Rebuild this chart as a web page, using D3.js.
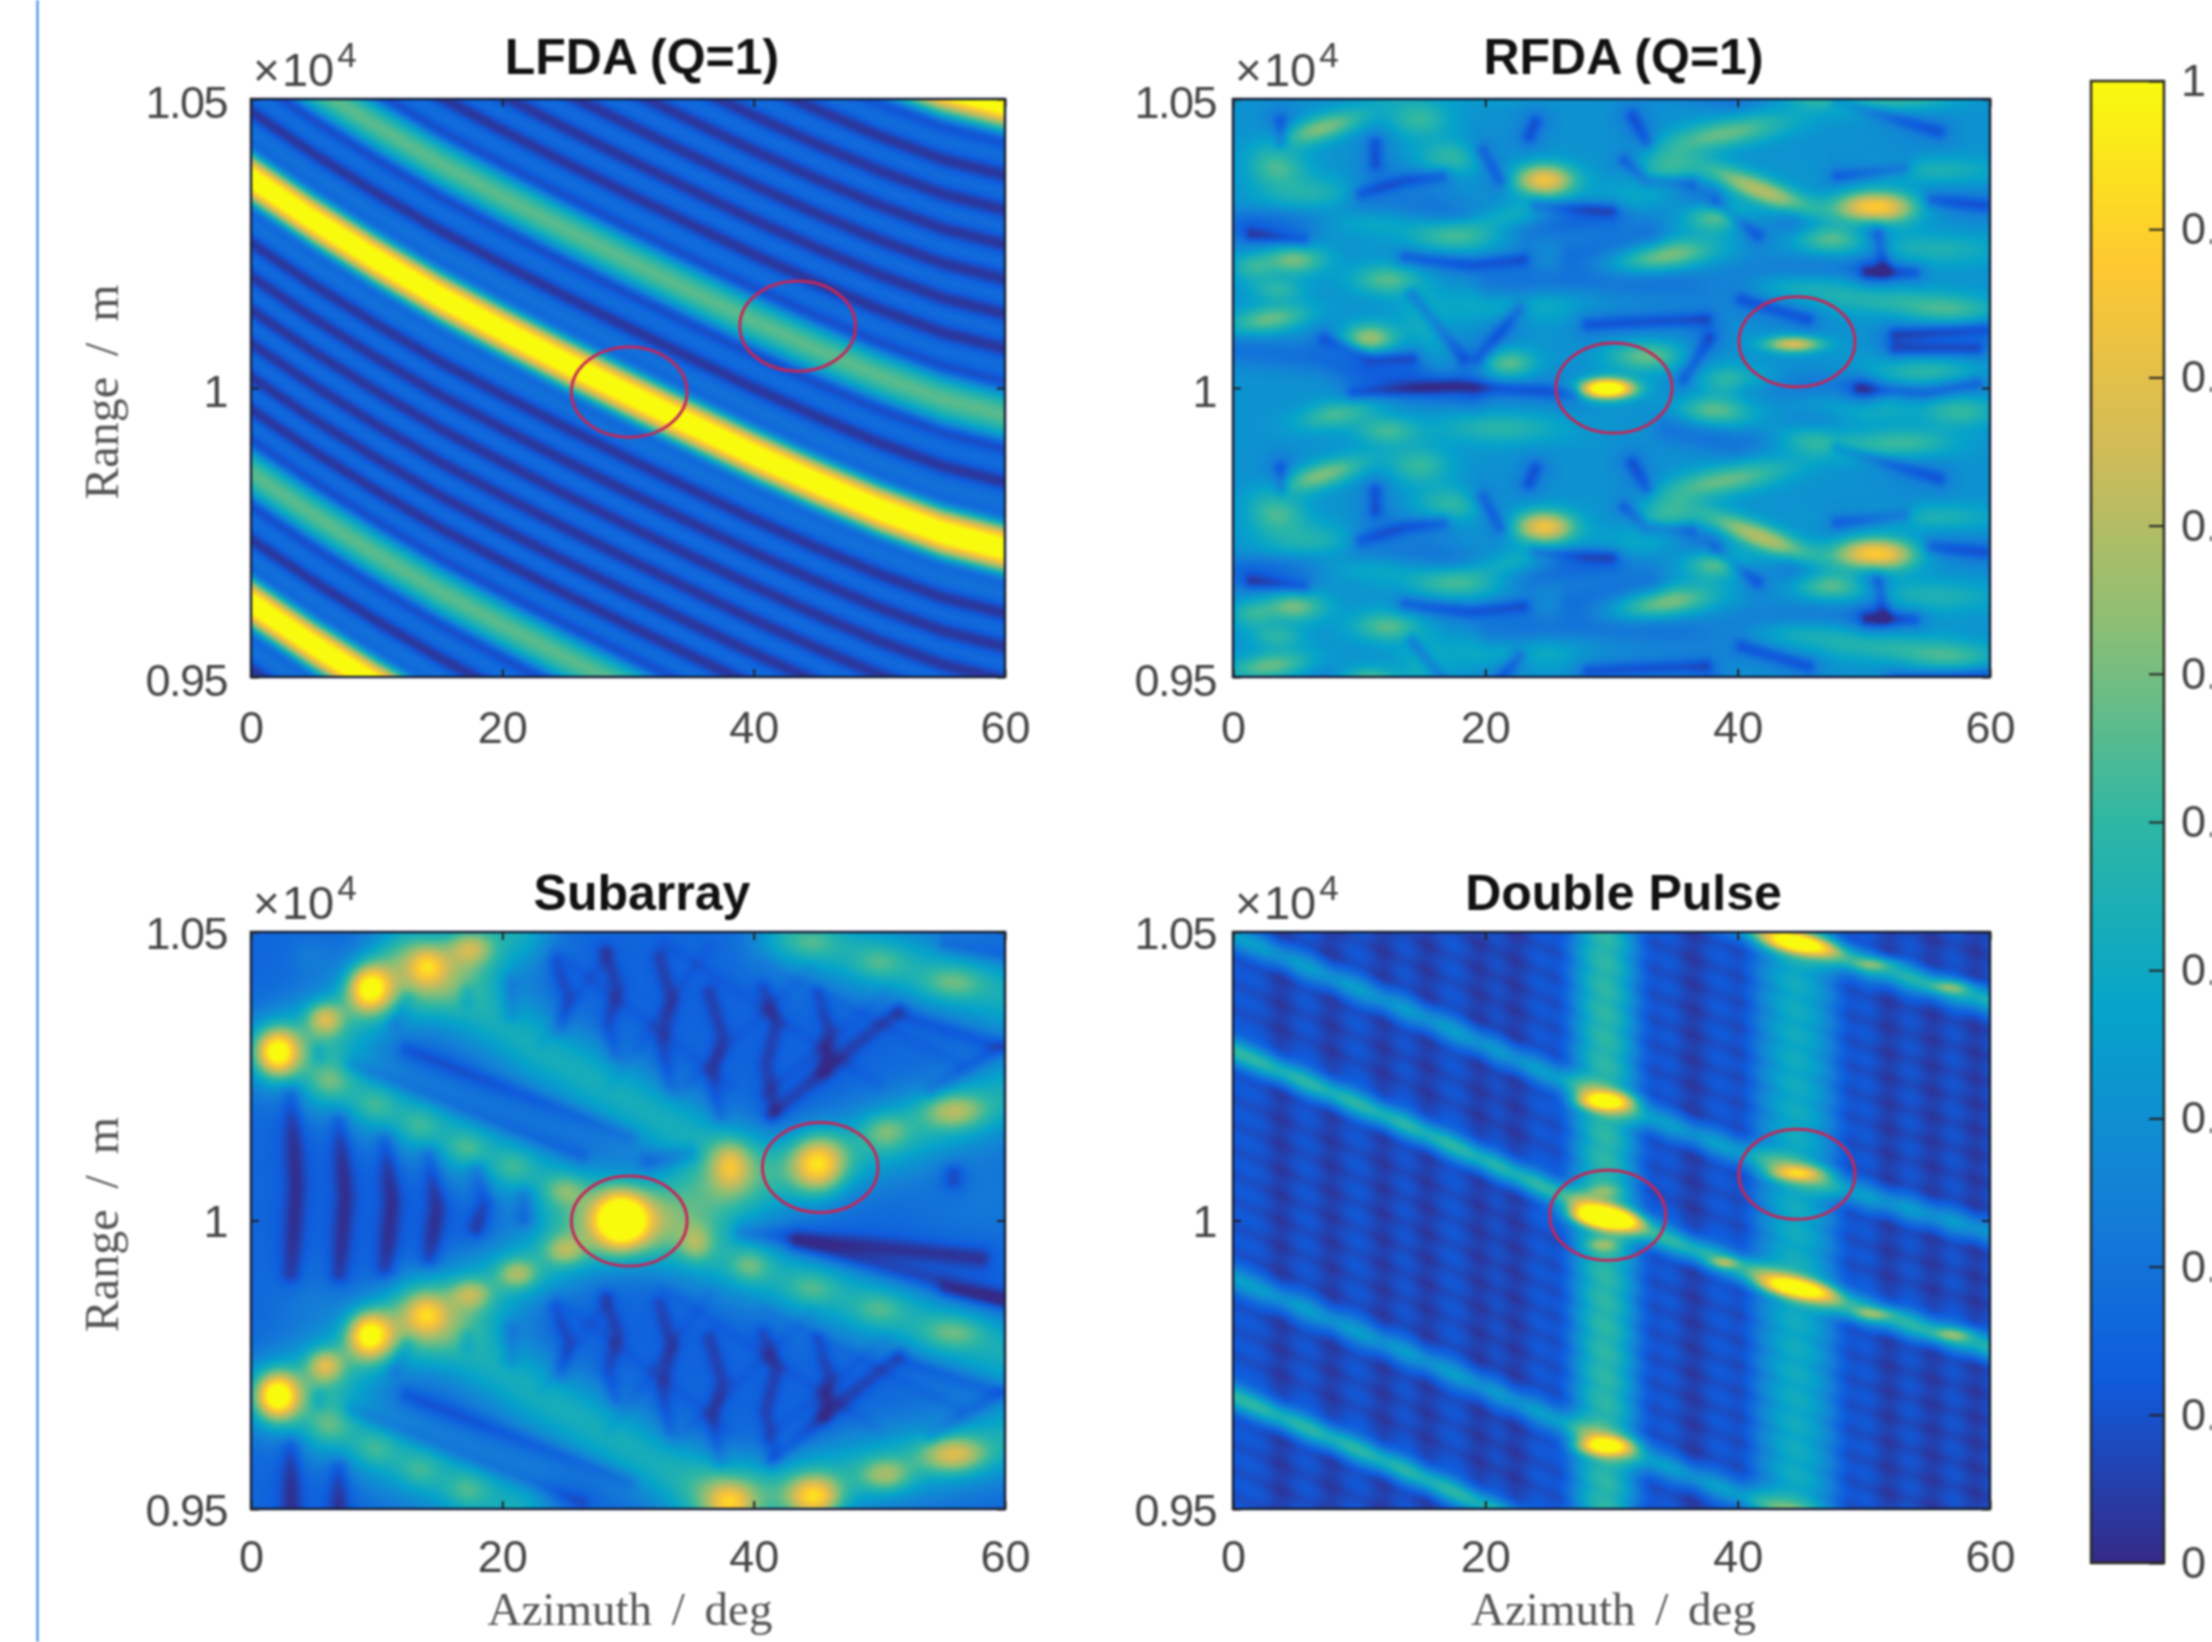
<!DOCTYPE html>
<html>
<head>
<meta charset="utf-8">
<script src="https://cdn.jsdelivr.net/npm/d3@7"></script>
<style>
body { margin: 0; background: #fff; }
svg { display: block; filter: blur(0.9px); }
text { font-family: "Liberation Sans", Arial, sans-serif; fill: #454545; }
.label { font-family: "Liberation Serif", serif; fill: #555; }
.title { font-weight: bold; fill: #111; }
</style>
</head>
<body>
<script>
var xTicks = [0, 20, 40, 60];
var yTicks = [9500, 10000, 10500];
var yTickLabels = ["0.95", "1", "1.05"];
var barTicks = [0, 0.1, 0.2, 0.3, 0.4, 0.5, 0.6, 0.7, 0.8, 0.9, 1];
var parula = ["#352a87", "#0f5cdd", "#1481d6", "#06a4ca", "#2eb7a4", "#87bf77", "#d1bb59", "#fec832", "#f9fb0e"];

// The heat maps are rebuilt from ridges, spots and nulls read off the picture (azimuth deg, range m),
// the original matrices are not available.

// LFDA: one curve, repeated at range shifts
var lfdaCurveAz = [0, 5, 10, 15, 20, 25, 30, 35, 40, 45, 50, 55, 60];
var lfdaCurveRange = [10363, 10290, 10222, 10158, 10100, 10044, 9990, 9937, 9885, 9836, 9790, 9750, 9722];
var lfdaRidgeShift = [0, 231, -510, -735, 770];
var lfdaRidgeLevel = [1.12, 0.56, 0.56, 1.12, 1.12];
var lfdaNullShift = [55, 115, 175, 286, 346, 406, 466, 526, 586, 646, 705, 825, 885,
  -55, -112, -170, -228, -286, -344, -400, -455, -565, -625, -680, -790, -850, -910];

// RFDA: [azimuth, range, level, spread az, spread range, slope m/deg]
var rfdaSpots = [
  [7, 10449, 0.55, 1.8, 12, 6], [14.8, 10466, 0.45, 1.2, 16, 0], [3.5, 10384, 0.48, 1.1, 16, 0],
  [17.2, 10397, 0.46, 1.3, 15, 0], [24.7, 10359, 0.78, 1.2, 14, 0], [34.3, 10376, 0.48, 1.3, 15, 0],
  [39, 10440, 0.52, 2.6, 13, 4], [41.9, 10342, 0.64, 2.2, 12, -8], [50.9, 10312, 0.85, 1.6, 14, 0],
  [38.4, 10297, 0.56, 1.2, 13, 0], [47.4, 10260, 0.52, 1.3, 12, 0], [34.3, 10229, 0.56, 2, 13, 3],
  [4.9, 10223, 0.56, 1.2, 13, 0], [1.5, 10209, 0.42, 0.8, 12, 0], [17.7, 10260, 0.46, 2, 14, 0],
  [21.8, 10295, 0.42, 2.2, 12, 4], [12.2, 10188, 0.48, 1.4, 13, 0], [3.5, 10170, 0.42, 1, 10, 0],
  [2.9, 10119, 0.52, 1.6, 12, 3], [10.8, 10085, 0.62, 1.1, 13, 0], [57, 10132, 0.46, 2, 12, 0],
  [6.1, 10333, 0.42, 2, 16, 0], [32.3, 10325, 0.42, 2, 14, 0], [22.4, 10145, 0.4, 2.5, 15, 0],
  [15.4, 10119, 0.42, 1.2, 28, -16], [51.5, 10153, 0.4, 3, 12, 0], [44.5, 10179, 0.4, 3, 12, 0],
  [55, 10239, 0.4, 3, 14, 0], [55, 10376, 0.4, 3, 12, 0], [10.8, 10290, 0.4, 2, 12, 0],
  [21.8, 10042, 0.52, 1.1, 13, 0], [32.8, 10055, 0.52, 1.5, 13, 0], [55, 10029, 0.46, 2.5, 13, 0],
  [8.4, 9956, 0.48, 1.6, 12, 4], [12.2, 9926, 0.46, 1.2, 12, 0], [38.1, 9961, 0.5, 1.4, 13, 0],
  [40.1, 10016, 0.46, 1.6, 12, 0], [49.4, 9969, 0.46, 2, 14, 0], [57.6, 9961, 0.46, 1.5, 14, 0],
  [21.2, 9931, 0.42, 2.5, 14, 0], [46.8, 9905, 0.46, 2.5, 14, -5], [53.2, 9905, 0.46, 2, 12, 0]
];
var rfdaRepeat = [0, -600, 600];
var rfdaTargets = [[29.65, 9999, 1.15, 1.5, 12, 0], [44.5, 10076, 0.68, 1.6, 10, 0]];
// nulls: polylines [az, range, az, range, ...]
var rfdaNulls = [
  [11.3, 10423, 11.3, 10389], [19.8, 10410, 21.2, 10359], [10.2, 10337, 13.7, 10359, 16.6, 10367],
  [13.7, 10226, 18.9, 10213, 23, 10222], [14.2, 10162, 18.3, 10051], [22.7, 10136, 19.5, 10051],
  [28.2, 10110, 37.5, 10119], [37.8, 10085, 35.8, 10016], [51.2, 10265, 51.7, 10205],
  [50.3, 10200, 54, 10200], [52.6, 10093, 59.6, 10102], [52.6, 10068, 59, 10068],
  [9.6, 9991, 17.7, 10004, 27, 9991], [38.4, 10320, 41.6, 10265], [24, 10460, 23.5, 10436],
  [31.7, 10470, 32.8, 10427], [31.1, 10393, 32.8, 10359, 36.3, 10354], [48, 10367, 53.2, 10380],
  [24.1, 10316, 30, 10307], [40.4, 10153, 45.6, 10119], [55.5, 10325, 59.6, 10316],
  [49.7, 9999, 54.9, 9991, 59, 10008], [7.3, 10085, 10.8, 10051, 14.2, 10051],
  [1.5, 10265, 5.5, 10256], [3.8, 10461, 3.8, 10427], [48, 10496, 56, 10444]
];
// wider blue valleys between the lumps
var rfdaValleys = [
  [0, 10282, 6.7, 10299, 15.4, 10307, 23.5, 10273, 30.5, 10307, 37.5, 10325],
  [20.6, 10170, 28.2, 10188, 37.5, 10179, 44.5, 10200, 50.3, 10205],
  [44.5, 10290, 50.3, 10277], [0.3, 10068, 6.7, 10051, 11.3, 10025, 18.9, 9991],
  [34.6, 9931, 39.8, 9905, 46.2, 9948, 50.3, 9982], [41, 10008, 49.7, 9999], [27, 10230, 33, 10260]
];

// Subarray
var subarraySpots = [
  [2.1, 10292, 1, 1.2, 28, 0], [9.4, 10403, 1, 1.2, 28, 0], [5.9, 10350, 0.7, 1, 20, 0],
  [14, 10442, 0.62, 1, 22, 0], [17.5, 10473, 0.62, 1.2, 20, 0], [29.5, 10000, 1.08, 1.4, 32, 0],
  [45.1, 10097, 0.88, 1.5, 34, 0], [38.1, 10097, 0.6, 1, 28, 0], [55.9, 10190, 0.64, 1.8, 22, 0],
  [50.5, 10155, 0.55, 1.3, 22, 0], [25, 9947, 0.6, 1.1, 18, 0], [21.2, 9907, 0.62, 1.1, 18, 0],
  [17.5, 9872, 0.6, 1.1, 18, 0], [14, 9836, 0.6, 1, 22, 0], [9.4, 9801, 1, 1.2, 28, 0],
  [5.9, 9748, 0.7, 1, 20, 0], [2.1, 9695, 1.05, 1.2, 28, 0], [35.4, 9960, 0.55, 0.9, 22, 0],
  [6.4, 10239, 0.48, 1.1, 20, 0], [9.9, 10199, 0.46, 1.1, 20, 0], [13.4, 10164, 0.46, 1.1, 20, 0],
  [17.2, 10124, 0.48, 1.1, 20, 0], [20.9, 10093, 0.46, 1.1, 20, 0], [25, 10053, 0.52, 1.1, 18, 0],
  [39.7, 9920, 0.52, 1.1, 20, 0], [44.6, 9881, 0.48, 1.4, 20, 0], [50, 9845, 0.48, 1.4, 20, 0],
  [55.9, 9805, 0.52, 1.7, 20, 0], [6.4, 9642, 0.46, 1.1, 20, 0], [9.9, 9602, 0.46, 1.1, 20, 0],
  [13.4, 9566, 0.46, 1.1, 20, 0], [17.2, 9531, 0.48, 1.1, 20, 0], [38.1, 9513, 0.58, 1.1, 20, 0],
  [44.8, 9518, 0.9, 1.5, 26, 0], [50.5, 9557, 0.62, 1.4, 20, 0], [55.9, 9593, 0.72, 1.8, 22, 0],
  [55.9, 10412, 0.52, 1.7, 20, 0], [50, 10447, 0.48, 1.4, 20, 0], [44.6, 10482, 0.48, 1.4, 20, 0],
  [4.8, 10460, 0.42, 1.3, 24, 0], [58, 10040, 0.42, 4, 60, 0], [5, 9870, 0.42, 2.5, 50, 0],
  [14, 10340, 0.36, 1.2, 60, 0], [14, 9740, 0.36, 1.2, 60, 0]
];
var subarrayRidges = [
  [6.4, 10239, 29.5, 10000, 60, 9770], [12.4, 10455, 23, 10296, 38, 10105], [13.4, 9836, 23, 9695, 38, 9505],
  [2.1, 9695, 29.5, 10000, 45.1, 10097, 60, 10216], [2.1, 10292, 20.9, 10500], [38.1, 9513, 60, 9617],
  [43, 10495, 60, 10390], [6.4, 9642, 20.9, 9500]
];
var subarrayNulls = [
  [3.2, 10217, 3.6, 10060, 3.2, 9907], [7, 10172, 7.5, 10040, 7, 9907], [10.7, 10137, 11.2, 10030, 10.7, 9916],
  [14.2, 10110, 14.8, 10020, 14.2, 9934], [18, 10084, 18.6, 10030, 18, 9987], [21.8, 10040, 21.8, 10004],
  [3.2, 9606, 3.2, 9500], [7, 9570, 7, 9500], [55.9, 10080, 55.9, 10070], [39.2, 9978, 58, 9934],
  [43.5, 9960, 59.6, 9863], [31.7, 10102, 34.9, 10115]
];
var subarrayNullsRepeat = [
  [20.7, 10411, 20.7, 10358], [24.2, 10447, 25.2, 10390, 24.7, 10332], [28.2, 10465, 29.2, 10400, 28.4, 10340, 29, 10288],
  [32.5, 10456, 33.5, 10380, 32.7, 10310, 33.3, 10234], [36.5, 10394, 37.5, 10320, 36.7, 10250, 37.3, 10181],
  [40.8, 10403, 41.8, 10340, 41, 10270, 41.6, 10190], [45.1, 10394, 46, 10330, 45.6, 10261],
  [41.4, 10181, 51.6, 10367], [51.6, 10358, 59.6, 10301], [59.6, 10301, 54.2, 10226],
  [12.4, 10296, 30.1, 10146], [8.1, 10270, 26.3, 10111], [55.3, 10478, 60, 10460],
  [12.4, 10385, 11.5, 10341], [17.2, 10395, 17.2, 10380], [5.4, 10292, 5.4, 10284]
];
// fainter diagonals that close the honeycomb cells
var subarrayLattice = [
  [23.1, 10305, 28.5, 10465], [28.5, 10234, 36.5, 10473], [33.8, 10217, 44.6, 10438], [40.8, 10217, 50.5, 10394],
  [24.2, 10465, 38.1, 10234], [32.8, 10482, 50, 10234], [40.8, 10447, 56.4, 10270]
];
var subarrayRepeat = [0, -600];

// Double pulse
var pulseCurveAz = [0, 14.2, 25.9, 29.4, 39.8, 50.3, 60];
var pulseCurveRange = [10494, 10361, 10245, 10210, 10121, 10041, 9979];
var pulseRidgeShift = [0, -200, -595, -800, 400];
var pulseRidgeLevel = [0.36, 0.5, 0.36, 0.5, 0.5];
var pulseBandAz = [29.5, 44.7];
var pulseBandLevel = [0.5, 0.42];
var pulseBandSpread = [1.9, 2.3];
var pulseStripeAz = [3.8, 7.8, 11.9, 15.4, 19.5, 22.4, 26, 33, 36.5, 40.4, 48.8, 52, 55.5, 58.9];
var pulseNullShift = [480, 436, 392, 348, 304, 260, 216, 172, 128, 84, 40, -40, -84, -128, -240, -284, -328, -372, -416,
  -460, -504, -548, -640, -684, -728, -840, -884, -928, -972, -1016, 524, 568, 612, 656];
var pulseSpots = [
  [29.4, 10206, 0.85, 1.6, 11, 0], [29.4, 10004, 1.15, 1.9, 12, -2], [29.4, 9607, 0.85, 1.6, 11, 0],
  [44.7, 10480, 0.85, 2, 11, -3], [44.7, 10081, 0.66, 1.5, 9, 0], [44.7, 9882, 0.85, 2, 11, -3],
  [39, 9926, 0.58, 0.8, 7, 0], [51.2, 10445, 0.55, 1.3, 8, 0], [50.9, 9837, 0.55, 1.3, 8, 0],
  [57, 10405, 0.55, 1.3, 8, 0], [57.3, 9802, 0.55, 1.3, 8, 0], [29.4, 9957, 0.55, 1, 8, 0], [29.4, 10050, 0.5, 1, 8, 0]
];

// red circles [azimuth, range]
var lfdaCircles = [[30.1, 9993], [43.5, 10107]];
var rfdaCircles = [[30.2, 10000], [44.7, 10080]];
var subarrayCircles = [[30.1, 9999], [45.3, 10092]];
var pulseCircles = [[29.7, 10009], [44.7, 10080]];

var width = 2212, height = 1642;
var colWidth = [[251, 1005], [1233, 1990]];
var rowHeight = [[99, 677], [932, 1509]];
var cell = 2;

var color = d3.scaleLinear()
  .domain(parula.map(function(d, i) { return i / (parula.length - 1); }))
  .range(parula)
  .clamp(true);

var svg = d3.select("body").append("svg")
  .attr("width", width)
  .attr("height", height);

svg.append("rect").attr("width", width).attr("height", height).attr("fill", "#fff");
svg.append("line").attr("x1", 37.5).attr("x2", 37.5).attr("y1", 0).attr("y2", height)
  .attr("stroke", "#2f86e6").attr("stroke-width", 2);

function gauss(d, s) { return Math.exp(-d * d / (2 * s * s)); }

function makeField(x, y, w, h, base) {
  var nx = Math.ceil(w / cell), ny = Math.ceil(h / cell);
  var v = new Float32Array(nx * ny).fill(base);
  return {
    nx: nx, ny: ny, v: v, base: base, x: x, y: y,
    px: function(i) { return (i + 0.5) * cell; },
    az: function(i) { return x.invert(x.range()[0] + (i + 0.5) * cell); },
    rg: function(j) { return y.invert(y.range()[1] + (j + 0.5) * cell); }
  };
}

// vertical offset from a curve
function addCurve(f, curveAz, curveRange, shift, amount, spread) {
  var c = d3.scaleLinear().domain(curveAz).range(curveRange);
  for (var i = 0; i < f.nx; i++) {
    var r0 = c(f.az(i)) + shift;
    for (var j = 0; j < f.ny; j++) {
      f.v[j * f.nx + i] += amount * gauss(f.rg(j) - r0, spread);
    }
  }
}

function addSpot(f, s, shift, base, grow) {
  var amount = s[2] - base;
  var sa = s[3] * grow, sr = s[4] * grow;
  for (var i = 0; i < f.nx; i++) {
    var a = f.az(i) - s[0];
    if (Math.abs(a) > sa * 4) continue;
    var ga = gauss(a, sa);
    for (var j = 0; j < f.ny; j++) {
      f.v[j * f.nx + i] += amount * ga * gauss(f.rg(j) - (s[1] + shift) - s[5] * a, sr);
    }
  }
}

function addColumn(f, az, amount, spread) {
  for (var i = 0; i < f.nx; i++) {
    var g = gauss(f.az(i) - az, spread);
    for (var j = 0; j < f.ny; j++) f.v[j * f.nx + i] += amount * g;
  }
}

// polyline given in data units, the fall off is measured in pixels
function addLine(f, pts, shift, amount, spread) {
  var x0 = f.x.range()[0], y0 = f.y.range()[1];
  var mark = new Float32Array(f.v.length);
  for (var k = 0; k + 3 < pts.length; k += 2) {
    var ax = f.x(pts[k]) - x0, ay = f.y(pts[k + 1] + shift) - y0;
    var bx = f.x(pts[k + 2]) - x0, by = f.y(pts[k + 3] + shift) - y0;
    var dx = bx - ax, dy = by - ay, len2 = dx * dx + dy * dy || 1;
    for (var i = 0; i < f.nx; i++) {
      var px = f.px(i);
      for (var j = 0; j < f.ny; j++) {
        var py = f.px(j);
        var t = Math.max(0, Math.min(1, ((px - ax) * dx + (py - ay) * dy) / len2));
        var ex = px - ax - t * dx, ey = py - ay - t * dy, d2 = ex * ex + ey * ey;
        if (d2 < 16 * spread * spread) {
          var g = Math.exp(-d2 / (2 * spread * spread));
          var n = j * f.nx + i;
          // strongest part of the polyline wins, joints do not add up
          if (g > mark[n]) {
            f.v[n] += amount * (g - mark[n]);
            mark[n] = g;
          }
        }
      }
    }
  }
}

function paintField(f) {
  var canvas = document.createElement("canvas");
  canvas.width = f.nx; canvas.height = f.ny;
  var ctx = canvas.getContext("2d");
  var img = ctx.createImageData(f.nx, f.ny);
  for (var n = 0; n < f.v.length; n++) {
    var c = d3.rgb(color(f.v[n]));
    img.data[n * 4] = c.r; img.data[n * 4 + 1] = c.g; img.data[n * 4 + 2] = c.b; img.data[n * 4 + 3] = 255;
  }
  ctx.putImageData(img, 0, 0);
  return canvas.toDataURL();
}

function drawLfda(f) {
  lfdaNullShift.forEach(function(s) { addCurve(f, lfdaCurveAz, lfdaCurveRange, s, -0.15, 11); });
  lfdaRidgeShift.forEach(function(s, i) { addCurve(f, lfdaCurveAz, lfdaCurveRange, s, lfdaRidgeLevel[i] - f.base, 30); });
}

function drawRfda(f) {
  rfdaRepeat.forEach(function(shift) {
    rfdaSpots.forEach(function(s) { addSpot(f, s, shift, f.base - 0.06, 1.45); });
    rfdaValleys.forEach(function(p) { addLine(f, p, shift, -0.11, 12); });
    rfdaNulls.forEach(function(p) {
      addLine(f, p, shift, -0.08, 13);
      addLine(f, p, shift, -0.13, 5);
    });
  });
  rfdaTargets.forEach(function(s) { addSpot(f, s, 0, f.base - 0.1, 1); });
}

function drawSubarray(f) {
  subarrayRidges.forEach(function(p) { addLine(f, p, 0, 0.27, 28); });
  subarraySpots.forEach(function(s) { addSpot(f, s, 0, f.base + 0.2, 1); });
  subarrayNulls.forEach(function(p) { addLine(f, p, 0, -0.05, 14); addLine(f, p, 0, -0.1, 7); });
  subarrayRepeat.forEach(function(shift) {
    subarrayNullsRepeat.forEach(function(p) { addLine(f, p, shift, -0.02, 14); addLine(f, p, shift, -0.08, 6); });
    subarrayLattice.forEach(function(p) { addLine(f, p, shift, -0.03, 5); });
  });
}

function drawPulse(f) {
  pulseStripeAz.forEach(function(a) { addColumn(f, a, -0.06, 0.8); });
  pulseNullShift.forEach(function(s) { addCurve(f, pulseCurveAz, pulseCurveRange, s, -0.03, 8); });
  pulseBandAz.forEach(function(a, i) { addColumn(f, a, pulseBandLevel[i] - f.base, pulseBandSpread[i]); });
  pulseRidgeShift.forEach(function(s, i) { addCurve(f, pulseCurveAz, pulseCurveRange, s, pulseRidgeLevel[i] - f.base, 16); });
  pulseSpots.forEach(function(s) { addSpot(f, s, 0, f.base + 0.25, 1); });
}

function panel(col, row, opts) {
  var left = colWidth[col][0], right = colWidth[col][1];
  var top = rowHeight[row][0], bottom = rowHeight[row][1];
  var x = d3.scaleLinear().domain([0, 60]).range([left, right]);
  var y = d3.scaleLinear().domain([9500, 10500]).range([bottom, top]);

  var f = makeField(x, y, right - left, bottom - top, opts.base);
  opts.draw(f);

  svg.append("image")
    .attr("x", left).attr("y", top)
    .attr("width", right - left).attr("height", bottom - top)
    .attr("preserveAspectRatio", "none")
    .attr("href", paintField(f));

  svg.selectAll(null).data(opts.circles).enter().append("ellipse")
    .attr("cx", function(d) { return x(d[0]); })
    .attr("cy", function(d) { return y(d[1]); })
    .attr("rx", x(4.6) - x(0))
    .attr("ry", y(10000) - y(10078))
    .attr("fill", "none")
    .attr("stroke", "#c4265a")
    .attr("stroke-width", 3);

  svg.append("rect")
    .attr("x", left).attr("y", top)
    .attr("width", right - left).attr("height", bottom - top)
    .attr("fill", "none").attr("stroke", "#16203a").attr("stroke-width", 2.5);

  var fmtY = function(d) { return yTickLabels[yTicks.indexOf(d)]; };
  var axes = [
    svg.append("g").attr("transform", "translate(0," + bottom + ")")
      .call(d3.axisBottom(x).tickValues(xTicks).tickSizeInner(-8).tickSizeOuter(0).tickPadding(row == 0 ? 34 : 31)),
    svg.append("g").attr("class", "yaxis").attr("transform", "translate(" + left + ",0)")
      .call(d3.axisLeft(y).tickValues(yTicks).tickFormat(fmtY).tickSizeInner(-8).tickSizeOuter(0).tickPadding(col == 0 ? 24 : 17)),
    svg.append("g").attr("transform", "translate(0," + top + ")")
      .call(d3.axisTop(x).tickValues(xTicks).tickFormat("").tickSizeInner(-8).tickSizeOuter(0)),
    svg.append("g").attr("transform", "translate(" + right + ",0)")
      .call(d3.axisRight(y).tickValues(yTicks).tickFormat("").tickSizeInner(-8).tickSizeOuter(0))
  ];
  axes.forEach(function(a) {
    a.attr("font-family", null).attr("font-size", null);
    a.select(".domain").remove();
    a.selectAll("line").attr("stroke", "#222").attr("stroke-width", 2);
    a.selectAll("text").style("font-size", "45px").attr("fill", null);
  });
  axes[1].selectAll("text").style("letter-spacing", "-1.5px").attr("dy", row == 0 ? "0.4em" : "0.36em");

  svg.append("text").attr("class", "title")
    .attr("x", (left + right) / 2 + (col == 0 ? 14 : 12)).attr("y", row == 0 ? 74 : 910)
    .attr("text-anchor", "middle").style("font-size", "50px").text(opts.title);

  var exp = svg.append("text").attr("x", left + 2).attr("y", top - 13).style("font-size", "47px");
  exp.append("tspan").style("font-size", "46px").text("\u00d7");
  exp.append("tspan").attr("dx", 2).text("10");
  exp.append("tspan").attr("dx", 3).attr("dy", -19).style("font-size", "35px").text("4");

  if (row == 1) {
    svg.append("text").attr("class", "label")
      .attr("x", (left + right) / 2 + 2).attr("y", 1625)
      .attr("text-anchor", "middle").style("font-size", "47px").style("word-spacing", "8px")
      .text("Azimuth / deg");
  }
  if (col == 0) {
    svg.append("text").attr("class", "label")
      .attr("transform", "translate(118," + ((top + bottom) / 2 + 4) + ") rotate(-90)")
      .attr("text-anchor", "middle").style("font-size", "48px").style("word-spacing", "9px")
      .text("Range / m");
  }
}

panel(0, 0, { title: "LFDA (Q=1)", base: 0.18, draw: drawLfda, circles: lfdaCircles });
panel(1, 0, { title: "RFDA (Q=1)", base: 0.31, draw: drawRfda, circles: rfdaCircles });
panel(0, 1, { title: "Subarray", base: 0.16, draw: drawSubarray, circles: subarrayCircles });
panel(1, 1, { title: "Double Pulse", base: 0.12, draw: drawPulse, circles: pulseCircles });

// colour bar
var barX = 2091, barW = 73;
var barY = d3.scaleLinear().domain([0, 1]).range([1563, 81]);
var grad = svg.append("defs").append("linearGradient")
  .attr("id", "bar").attr("x1", 0).attr("x2", 0).attr("y1", 1).attr("y2", 0);
grad.selectAll("stop").data(parula).enter().append("stop")
  .attr("offset", function(d, i) { return i / (parula.length - 1); })
  .attr("stop-color", function(d) { return d; });
svg.append("rect").attr("x", barX).attr("y", barY(1)).attr("width", barW).attr("height", barY(0) - barY(1))
  .attr("fill", "url(#bar)").attr("stroke", "#2a2a20").attr("stroke-width", 2.5);
var barAxis = svg.append("g").attr("transform", "translate(" + (barX + barW) + ",0)")
  .call(d3.axisRight(barY).tickValues(barTicks).tickFormat(function(d) { return d; })
    .tickSizeInner(-15).tickSizeOuter(0).tickPadding(17));
barAxis.attr("font-family", null).attr("font-size", null);
barAxis.select(".domain").remove();
barAxis.selectAll("line").attr("stroke", "#222").attr("stroke-width", 2);
barAxis.selectAll("text").style("font-size", "45px").attr("fill", null);
</script>
</body>
</html>
